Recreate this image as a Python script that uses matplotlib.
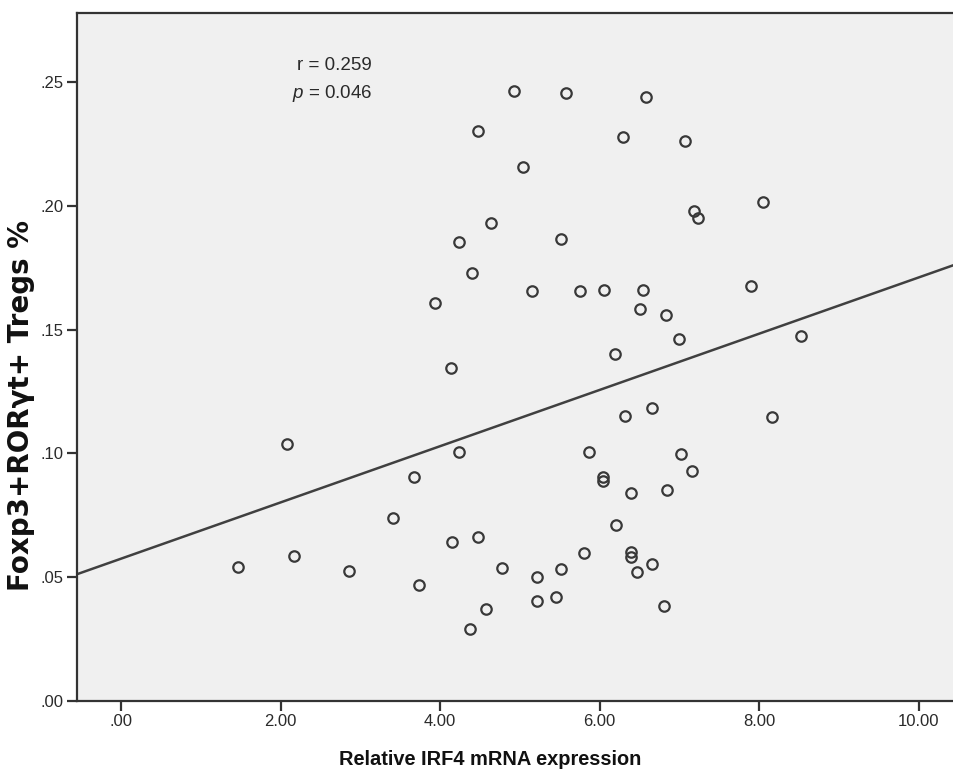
import numpy as np
import matplotlib
matplotlib.use("Agg")
import matplotlib.pyplot as plt

# Relative IRF4 mRNA expression vs Foxp3+RORgt+ Treg %
irf4 = [4.92, 5.58, 6.58, 4.47, 6.29, 7.07, 5.04, 7.18, 7.23, 8.05,
        4.64, 4.24, 5.51, 4.40, 5.15, 5.75, 6.05, 6.54, 3.94, 7.90,
        6.51, 6.83, 6.99, 8.52, 6.19, 4.14, 2.08, 4.24, 3.67, 3.41,
        4.15, 4.48, 1.47, 2.17, 2.86, 3.73, 4.78, 5.21, 5.51, 5.21,
        5.45, 4.58, 4.38, 5.80, 6.32, 6.65, 8.16, 5.87, 7.02, 7.16,
        6.04, 6.04, 6.39, 6.84, 6.21, 6.39, 6.39, 6.66, 6.47, 6.80]
tregs = [0.2464, 0.2454, 0.2438, 0.2302, 0.2278, 0.2263, 0.2155, 0.1979, 0.1952, 0.2014,
         0.1932, 0.1855, 0.1866, 0.1730, 0.1657, 0.1657, 0.1659, 0.1660, 0.1609, 0.1677,
         0.1583, 0.1560, 0.1461, 0.1474, 0.1403, 0.1346, 0.1038, 0.1007, 0.0905, 0.0738,
         0.0642, 0.0664, 0.0540, 0.0587, 0.0524, 0.0470, 0.0536, 0.0502, 0.0534, 0.0405,
         0.0419, 0.0372, 0.0290, 0.0599, 0.1152, 0.1183, 0.1147, 0.1004, 0.0999, 0.0929,
         0.0905, 0.0889, 0.0841, 0.0852, 0.0711, 0.0603, 0.0583, 0.0552, 0.0521, 0.0385]

xticks = [0, 2, 4, 6, 8, 10]
xtick_labels = [".00", "2.00", "4.00", "6.00", "8.00", "10.00"]
yticks = [0, 0.05, 0.10, 0.15, 0.20, 0.25]
ytick_labels = [".00", ".05", ".10", ".15", ".20", ".25"]

plt.rcParams["font.family"] = ["Liberation Sans", "DejaVu Sans"]
plt.rcParams["mathtext.fontset"] = "custom"
plt.rcParams["mathtext.it"] = "Liberation Sans:italic"
plt.rcParams["mathtext.rm"] = "Liberation Sans"

dark = "#333333"

fig = plt.figure(figsize=(9.54, 7.75), dpi=100)
ax = fig.add_axes([0.0804, 0.0955, 0.9196, 0.8873])
ax.set_facecolor("#f0f0f0")

xlim = (-0.555, 10.44)
ylim = (0.0, 0.2777)

# regression line
slope, intercept = np.polyfit(irf4, tregs, 1)
xs = np.array(xlim)
ax.plot(xs, intercept + slope * xs, color="#404040", lw=1.8, zorder=2)

ax.plot(irf4, tregs, linestyle="none", marker="o", markersize=7.5,
        markerfacecolor="none", markeredgecolor="#383838", markeredgewidth=1.6,
        zorder=3)

ax.set_xlim(*xlim)
ax.set_ylim(*ylim)
ax.set_xticks(xticks)
ax.set_xticklabels(xtick_labels)
ax.set_yticks(yticks)
ax.set_yticklabels(ytick_labels)
ax.tick_params(axis="both", direction="out", length=7.5, width=1.6, color=dark,
               labelsize=12, labelcolor="#2a2a2a", pad=2)

for side in ["left", "bottom", "top"]:
    ax.spines[side].set_color(dark)
    ax.spines[side].set_linewidth(1.6)
ax.spines["right"].set_visible(False)

ax.set_xlabel("Relative IRF4 mRNA expression", fontsize=14.4, fontweight="bold",
              color="#111111")
ax.xaxis.set_label_coords(0.471, -0.072)
ax.set_ylabel("Foxp3+RORγt+ Tregs %", fontsize=20, fontweight="bold",
              family="DejaVu Sans", color="#111111")
ax.yaxis.set_label_coords(-0.0635, 0.43)
ax.yaxis.label.set_va("center")

ax.text(0.3366, 0.9248, "r = 0.259", transform=ax.transAxes, ha="right",
        va="center", fontsize=13.5, color="#2a2a2a")
ax.text(0.3366, 0.884, r"$p$ = 0.046", transform=ax.transAxes, ha="right",
        va="center", fontsize=13.5, color="#2a2a2a")

fig.savefig("out.png", dpi=100)
